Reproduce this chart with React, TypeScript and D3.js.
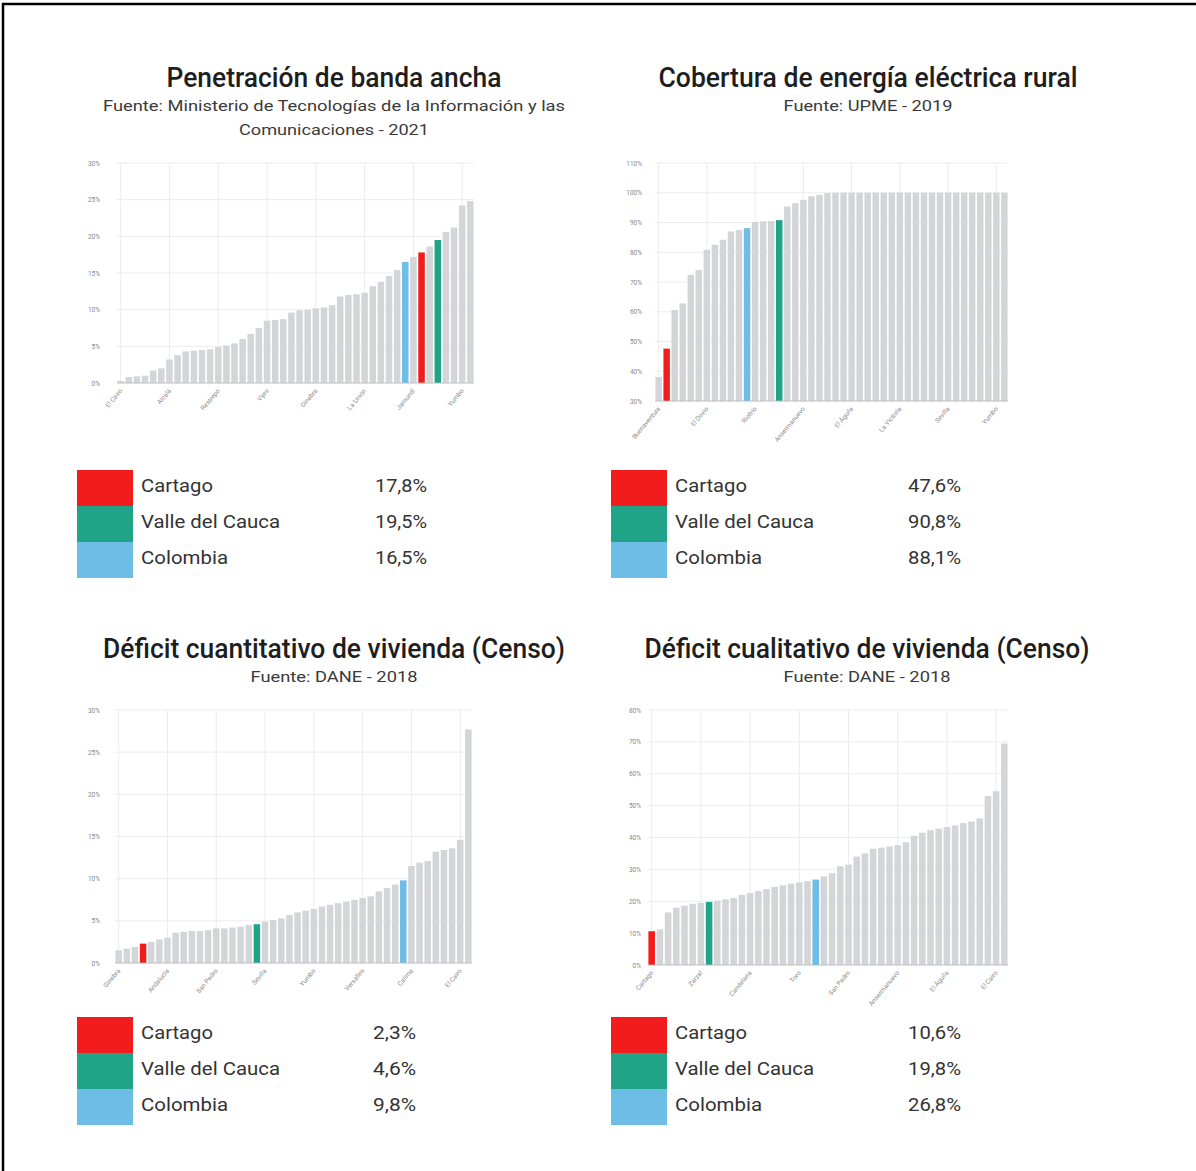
import React from 'react';
import * as d3 from 'd3';

// ---------- DATA ----------
const names1 = ['El Cairo','Argelia','El Dovio','Bolívar','Riofrío','Versalles','Alcalá','Ulloa','Calima','Trujillo','La Victoria','Obando','Restrepo','Dagua','Ansermanuevo','Toro','El Águila','San Pedro','Vijes','Yotoco','Sevilla','Caicedonia','La Cumbre','Guacarí','Ginebra','Roldanillo','Florida','Pradera','Bugalagrande','Andalucía','La Unión','Zarzal','El Cerrito','Candelaria','Buenaventura','Colombia','Jamundí','Cartago','Tuluá','Valle del Cauca','Buga','Palmira','Yumbo','Cali'];
const values1 = [0.3,0.8,0.9,1.0,1.7,2.0,3.2,3.8,4.3,4.4,4.5,4.6,4.9,5.1,5.4,6.0,6.7,7.5,8.5,8.6,8.7,9.6,9.9,10.0,10.2,10.3,10.6,11.8,12.0,12.1,12.3,13.2,13.8,14.6,15.4,16.5,17.2,17.8,18.6,19.5,20.6,21.2,24.2,24.8];
const ticks1 = [0,5,10,15,20,25,30];

const names2 = ['Buenaventura','Cartago','Dagua','El Cairo','Argelia','Jamundí','El Dovio','Bolívar','Calima','Florida','Trujillo','Colombia','Riofrío','Versalles','Pradera','Valle del Cauca','Alcalá','Andalucía','Ansermanuevo','Buga','Bugalagrande','Caicedonia','Cali','Candelaria','El Águila','El Cerrito','Ginebra','Guacarí','La Cumbre','La Unión','La Victoria','Obando','Palmira','Restrepo','Roldanillo','San Pedro','Sevilla','Toro','Tuluá','Ulloa','Vijes','Yotoco','Yumbo','Zarzal'];
const values2 = [38.1,47.6,60.6,62.8,72.4,74.0,80.8,82.5,84.2,87.0,87.5,88.1,90.2,90.4,90.5,90.8,95.4,96.5,97.6,98.8,99.3,99.9,100,100,100,100,100,100,100,100,100,100,100,100,100,100,100,100,100,100,100,100,100,100];
const ticks2 = [30,40,50,60,70,80,90,100,110];

const names3 = ['Ginebra','Guacarí','Yotoco','Cartago','Alcalá','Ulloa','Andalucía','Zarzal','Palmira','Buga','Tuluá','Roldanillo','San Pedro','Obando','La Unión','Toro','Caicedonia','Valle del Cauca','Sevilla','Cali','Bugalagrande','El Cerrito','Vijes','Candelaria','Yumbo','Florida','Pradera','Restrepo','Ansermanuevo','La Victoria','Versalles','Trujillo','El Águila','Riofrío','Bolívar','Colombia','Calima','La Cumbre','Jamundí','Dagua','El Dovio','Argelia','El Cairo','Buenaventura'];
const values3 = [1.5,1.7,1.9,2.3,2.5,2.8,3.0,3.6,3.7,3.8,3.8,3.9,4.1,4.1,4.2,4.3,4.5,4.6,4.9,5.1,5.3,5.7,6.0,6.2,6.4,6.7,6.9,7.1,7.3,7.5,7.7,7.9,8.5,8.9,9.3,9.8,11.5,11.9,12.1,13.2,13.4,13.6,14.6,27.7];
const ticks3 = [0,5,10,15,20,25,30];

const names4 = ['Cartago','Cali','Palmira','Tuluá','Buga','Yumbo','Zarzal','Valle del Cauca','Sevilla','Caicedonia','La Unión','Roldanillo','Candelaria','Andalucía','Guacarí','Ginebra','El Cerrito','Jamundí','Toro','Obando','Colombia','Ulloa','Alcalá','Bugalagrande','San Pedro','Yotoco','Florida','Pradera','Vijes','La Victoria','Ansermanuevo','Restrepo','Versalles','Riofrío','Trujillo','Calima','El Águila','Bolívar','El Dovio','La Cumbre','Dagua','Argelia','El Cairo','Buenaventura'];
const values4 = [10.6,11.2,16.5,18.0,18.6,19.2,19.5,19.8,20.2,20.6,21.0,22.0,22.6,23.2,23.8,24.5,25.0,25.5,25.9,26.3,26.8,27.8,28.8,31.0,31.5,34.0,35.0,36.5,36.8,37.2,37.6,38.5,40.5,41.5,42.3,42.8,43.3,43.8,44.5,45.0,46.0,53.0,54.5,69.5];
const ticks4 = [0,10,20,30,40,50,60,70,80];

const legendNames = ['Cartago','Valle del Cauca','Colombia'];
const legendValues1 = ['17,8%','19,5%','16,5%'];
const legendValues2 = ['47,6%','90,8%','88,1%'];
const legendValues3 = ['2,3%','4,6%','9,8%'];
const legendValues4 = ['10,6%','19,8%','26,8%'];

const titles = ['Penetración de banda ancha','Cobertura de energía eléctrica rural','Déficit cuantitativo de vivienda (Censo)','Déficit cualitativo de vivienda (Censo)'];
const subtitles = [
  ['Fuente: Ministerio de Tecnologías de la Información y las','Comunicaciones - 2021'],
  ['Fuente: UPME - 2019'],
  ['Fuente: DANE - 2018'],
  ['Fuente: DANE - 2018'],
];

// ---------- STYLE ----------
const COLORS: Record<string, string> = {
  'Cartago': '#f21c1c',
  'Valle del Cauca': '#1fa487',
  'Colombia': '#6dbde6',
};
const GRAY = '#d3d5d8';
const FONT = 'Roboto, "Open Sans", sans-serif';

type ChartProps = {
  names: string[];
  values: number[];
  ticks: number[];
  x0: number; x1: number; yTop: number; yBot: number; labelX: number;
  title: string; titleW: number; titleCx: number; titleY: number;
  subs: string[]; subWs: number[]; subY: number;
  legendVals: string[]; legX: number; legY: number; valX: number; valW: number;
};

function Chart(p: ChartProps) {
  const x = d3.scaleBand<string>().domain(p.names).range([p.x0, p.x1]).paddingInner(0.2).paddingOuter(0.05);
  const y = d3.scaleLinear().domain([p.ticks[0], p.ticks[p.ticks.length - 1]]).range([p.yBot, p.yTop]);
  const labeled = p.names.filter((_, i) => i % 6 === 0);
  const legWidths: Record<string, number> = { 'Cartago': 72, 'Valle del Cauca': 139, 'Colombia': 87 };
  return (
    <g>
      {p.ticks.map((t) => (
        <line key={'h' + t} x1={p.x0} x2={p.x1} y1={y(t)} y2={y(t)} stroke="#ececec" strokeWidth={1} />
      ))}
      {labeled.map((n) => (
        <line key={'v' + n} x1={(x(n) as number) + x.bandwidth() / 2} x2={(x(n) as number) + x.bandwidth() / 2} y1={p.yTop} y2={p.yBot} stroke="#ececec" strokeWidth={1} />
      ))}
      {p.names.map((n, i) => (
        <rect key={n + i} x={x(n)} width={x.bandwidth()} y={y(p.values[i])} height={p.yBot - y(p.values[i])} fill={COLORS[n] || GRAY} />
      ))}
      <line x1={p.x0} x2={p.x1} y1={p.yBot} y2={p.yBot} stroke="#bbb" strokeWidth={0.8} />
      {p.ticks.map((t) => (
        <text key={'yt' + t} x={p.labelX} y={y(t) + 2.5} textAnchor="end" fontSize={6.5} fill="#888" fontFamily={FONT}>{t + '%'}</text>
      ))}
      {labeled.map((n) => {
        const cx = (x(n) as number) + x.bandwidth() / 2;
        return (
          <text key={'xt' + n} transform={`translate(${cx + 2},${p.yBot + 8}) rotate(-50)`} textAnchor="end" fontSize={6.5} fill="#888" fontFamily={FONT}>{n}</text>
        );
      })}
      <text x={p.titleCx} y={p.titleY} textAnchor="middle" fontSize={27} fontWeight={500} fill="#1e1e1e" fontFamily={FONT} textLength={p.titleW} lengthAdjust="spacingAndGlyphs">{p.title}</text>
      {p.subs.map((s, i) => (
        <text key={s} x={p.titleCx} y={p.subY + i * 24} textAnchor="middle" fontSize={15} fill="#3a3a3a" fontFamily={FONT} textLength={p.subWs[i]} lengthAdjust="spacingAndGlyphs">{s}</text>
      ))}
      {legendNames.map((n, i) => (
        <g key={'lg' + n}>
          <rect x={p.legX} y={p.legY + i * 36} width={56} height={36} fill={COLORS[n]} />
          <text x={p.legX + 64} y={p.legY + i * 36 + 22} fontSize={19} fill="#333" fontFamily={FONT} textLength={legWidths[n]} lengthAdjust="spacingAndGlyphs">{n}</text>
          <text x={p.valX} y={p.legY + i * 36 + 22} fontSize={19} fill="#333" fontFamily={FONT} textLength={p.valW} lengthAdjust="spacingAndGlyphs">{p.legendVals[i]}</text>
        </g>
      ))}
    </g>
  );
}

export default function App() {
  return (
    <svg width={1196} height={1171} style={{ position: 'absolute', left: 0, top: 0, background: '#fff' }}>
      <rect x={0} y={0} width={1196} height={1171} fill="#fff" />
      <rect x={3} y={4} width={2000} height={2000} fill="none" stroke="#000" strokeWidth={2.5} />
      <Chart names={names1} values={values1} ticks={ticks1} x0={117} x1={474} yTop={163} yBot={383} labelX={100}
        title={titles[0]} titleW={335} titleCx={334} titleY={87}
        subs={subtitles[0]} subWs={[462, 190]} subY={111}
        legendVals={legendValues1} legX={77} legY={470} valX={375} valW={52} />
      <Chart names={names2} values={values2} ticks={ticks2} x0={655} x1={1008} yTop={163} yBot={401} labelX={642}
        title={titles[1]} titleW={419} titleCx={868} titleY={87}
        subs={subtitles[1]} subWs={[169]} subY={111}
        legendVals={legendValues2} legX={611} legY={470} valX={908} valW={53} />
      <Chart names={names3} values={values3} ticks={ticks3} x0={115} x1={472} yTop={710} yBot={963} labelX={100}
        title={titles[2]} titleW={462} titleCx={334} titleY={658}
        subs={subtitles[2]} subWs={[167]} subY={682}
        legendVals={legendValues3} legX={77} legY={1017} valX={373} valW={43} />
      <Chart names={names4} values={values4} ticks={ticks4} x0={648} x1={1008} yTop={710} yBot={965} labelX={641}
        title={titles[3]} titleW={445} titleCx={867} titleY={658}
        subs={subtitles[3]} subWs={[167]} subY={682}
        legendVals={legendValues4} legX={611} legY={1017} valX={908} valW={53} />
    </svg>
  );
}
